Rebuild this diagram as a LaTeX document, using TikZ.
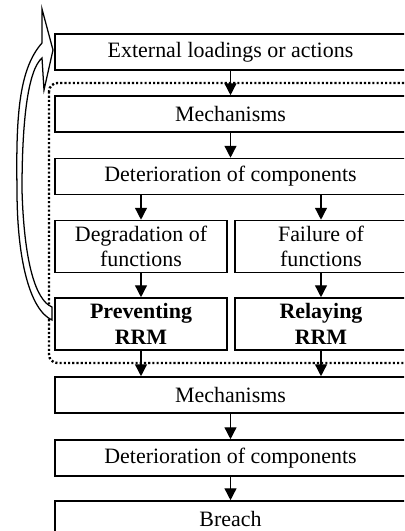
\documentclass[tikz,border=0pt]{standalone}
\usepackage{fontspec}
\setmainfont{Liberation Serif}
\usetikzlibrary{arrows.meta,positioning,calc}

\begin{document}
\begin{tikzpicture}[x=0.025cm,y=-0.025cm,
		box/.style={draw,line width=1.1pt,fill=white,inner sep=0pt,minimum height=0.9cm,align=center,font=\fontsize{15.6}{18.2}\selectfont},
		wide/.style={box,minimum width=8.775cm},
		half/.style={box,minimum width=4.3cm,minimum height=1.3cm},
		flow/.style={line width=1pt,-{Triangle[width=8.5pt,length=8.5pt]}},
		loop/.style={draw,line width=0.9pt,fill=white,line join=miter},
		group/.style={line width=1.7pt,dash pattern=on 1.5pt off 1.5pt,rounded corners=6pt}]
	\clip (0,0) rectangle (404,531);
	\draw[group] (49,83) rectangle (414,363);
	%
	\node[wide] (ext) at (230.5,52) {External loadings or actions};
	\node[wide] (mech1) at (230.5,114) {Mechanisms};
	\node[wide] (det1) at (230.5,176.5) {Deterioration of components};
	\node[half] (deg) at (141,246.5) {Degradation of\\functions};
	\node[half] (fail) at (321,246.5) {Failure of\\functions};
	\node[half] (prev) at (141,324) {\textbf{Preventing}\\\textbf{RRM}};
	\node[half] (rel) at (321,324) {\textbf{Relaying}\\\textbf{RRM}};
	\node[wide] (mech2) at (230.5,395) {Mechanisms};
	\node[wide] (det2) at (230.5,458) {Deterioration of components};
	\node[wide] (breach) at (230.5,519) {Breach};
	%
	\draw[flow] (ext) -- (mech1);
	\draw[flow] (mech1) -- (det1);
	\draw[flow] (det1.south -| deg) -- (deg.north);
	\draw[flow] (det1.south -| fail) -- (fail.north);
	\draw[flow] (deg) -- (prev);
	\draw[flow] (fail) -- (rel);
	\draw[flow] (prev.south) -- (prev.south |- mech2.north);
	\draw[flow] (rel.south) -- (rel.south |- mech2.north);
	\draw[flow] (mech2) -- (det2);
	\draw[flow] (det2) -- (breach);
	%
	\draw[loop] (42,43) -- (42,9) -- (53,50) -- (44,90) -- (42,58)
		.. controls (28,70) and (22,120) .. (22,190)
		.. controls (24,260) and (35,300) .. (52,307) -- (52,320)
		.. controls (30,310) and (17,260) .. (17,190)
		.. controls (16,120) and (18,70) .. cycle;
\end{tikzpicture}
\end{document}
